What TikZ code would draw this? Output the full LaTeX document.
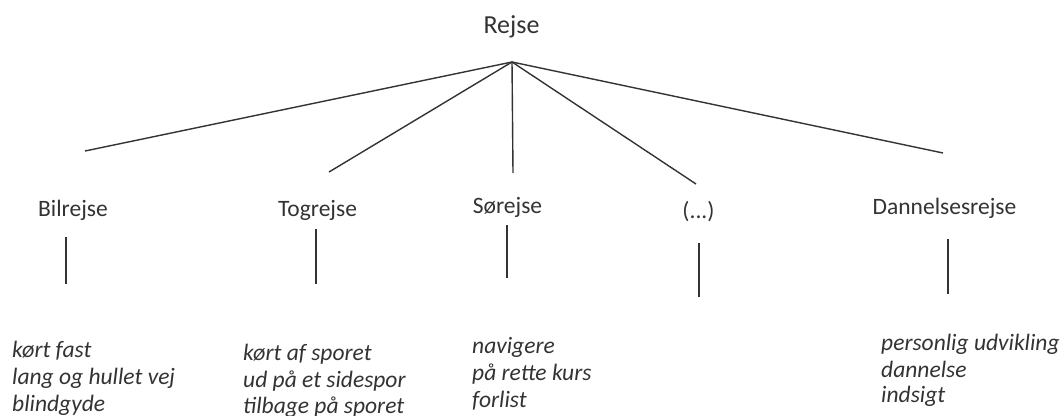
\documentclass[tikz,border=0pt]{standalone}
\usepackage{fontspec}
\setmainfont{Carlito}
\begin{document}
\begin{tikzpicture}[x=1pt,y=-1pt,
  ink/.style={draw=black!80, line width=1.4pt},
  root/.style={inner sep=0pt, anchor=base, text=black!80, font=\fontsize{26}{30}\selectfont},
  kind/.style={inner sep=0pt, anchor=base, text=black!80, font=\fontsize{23.5}{27}\selectfont},
  note/.style={inner sep=0pt, anchor=base west, text=black!80, font=\itshape\fontsize{23.5}{27}\selectfont}]
\useasboundingbox (0,0) rectangle (1064,415);

% top node and the point where all branches meet
\node[root] (rejse) at (511.5,33) {Rejse};
\coordinate (apex) at (512,62);

% branch ends
\coordinate (e1) at (85,151);
\coordinate (e2) at (329,172);
\coordinate (e3) at (513,173);
\coordinate (e4) at (696,184);
\coordinate (e5) at (943,153);
\foreach \e in {e1,e2,e3,e4,e5} \draw[ink] (apex) -- (\e);

% kinds of journeys
\node[kind] (bil) at (73,216) {Bilrejse};
\node[kind] (tog) at (317.5,216) {Togrejse};
\node[kind] (so) at (507.5,213) {Sørejse};
\node[kind] (etc) at (698.5,218) {(...)};
\node[kind] (dan) at (944.5,214) {Dannelsesrejse};

% short stems under each kind
\coordinate (b1) at (66,237);  \coordinate (b2) at (66,284);
\coordinate (t1) at (316,229); \coordinate (t2) at (316,284);
\coordinate (s1) at (507,225); \coordinate (s2) at (507,278);
\coordinate (x1) at (699,243); \coordinate (x2) at (699,297);
\coordinate (d1) at (948,239); \coordinate (d2) at (948,294);
\draw[ink] (b1) -- (b2);
\draw[ink] (t1) -- (t2);
\draw[ink] (s1) -- (s2);
\draw[ink] (x1) -- (x2);
\draw[ink] (d1) -- (d2);

% associated phrases
\node[note] (bA) at (12,357) {kørt fast};
\node[note] (bB) at (12,384) {lang og hullet vej};
\node[note] (bC) at (12,411) {blindgyde};

\node[note] (tA) at (243,360) {kørt af sporet};
\node[note] (tB) at (243,387) {ud på et sidespor};
\node[note] (tC) at (243,413) {tilbage på sporet};

\node[note] (sA) at (472,353) {navigere};
\node[note] (sB) at (472,380) {på rette kurs};
\node[note] (sC) at (472,407) {forlist};

\node[note] (dA) at (881,350) {personlig udvikling};
\node[note] (dB) at (881,377) {dannelse};
\node[note] (dC) at (881,402) {indsigt};
\end{tikzpicture}
\end{document}
